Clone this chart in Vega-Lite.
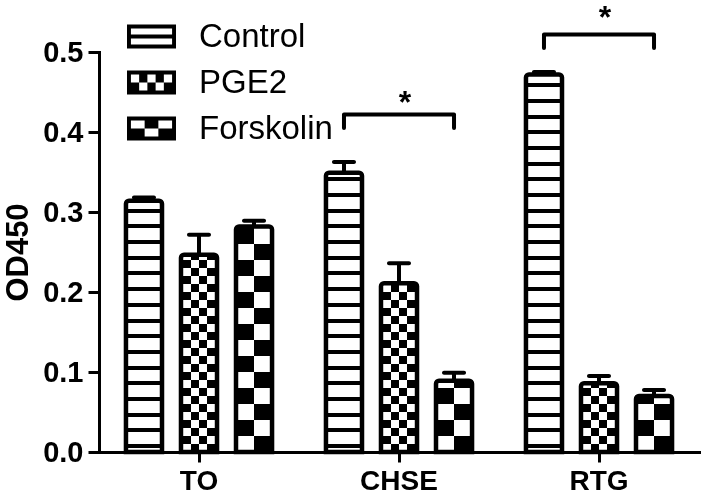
{
  "$schema": "https://vega.github.io/schema/vega-lite/v6.json",
  "width": 600,
  "height": 400,
  "autosize": {"type": "none"},
  "padding": {"left": 99, "top": 52, "right": 3, "bottom": 42},
  "background": "white",
  "datasets": {
    "bars": [
      {"site": "TO", "treatment": "Control", "od": 0.314, "upper": 0.318},
      {"site": "TO", "treatment": "PGE2", "od": 0.2465, "upper": 0.2715},
      {"site": "TO", "treatment": "Forskolin", "od": 0.282, "upper": 0.289},
      {"site": "CHSE", "treatment": "Control", "od": 0.349, "upper": 0.3625},
      {"site": "CHSE", "treatment": "PGE2", "od": 0.211, "upper": 0.236},
      {"site": "CHSE", "treatment": "Forskolin", "od": 0.089, "upper": 0.099},
      {"site": "RTG", "treatment": "Control", "od": 0.472, "upper": 0.475},
      {"site": "RTG", "treatment": "PGE2", "od": 0.086, "upper": 0.095},
      {"site": "RTG", "treatment": "Forskolin", "od": 0.07, "upper": 0.0775}
    ],
    "brackets": [
      {"site": "CHSE", "treatment": "Control", "y": 0.405, "pt": 1},
      {"site": "CHSE", "treatment": "Control", "y": 0.422, "pt": 2},
      {"site": "CHSE", "treatment": "Forskolin", "y": 0.422, "pt": 3},
      {"site": "CHSE", "treatment": "Forskolin", "y": 0.405, "pt": 4},
      {"site": "RTG", "treatment": "Control", "y": 0.505, "pt": 1},
      {"site": "RTG", "treatment": "Control", "y": 0.522, "pt": 2},
      {"site": "RTG", "treatment": "Forskolin", "y": 0.522, "pt": 3},
      {"site": "RTG", "treatment": "Forskolin", "y": 0.505, "pt": 4}
    ],
    "stars": [
      {"site": "CHSE", "treatment": "PGE2", "y": 0.424, "label": "*"},
      {"site": "RTG", "treatment": "PGE2", "y": 0.53, "label": "*"}
    ]
  },
  "data": {"name": "bars"},
  "encoding": {
    "x": {
      "field": "site", "type": "nominal",
      "scale": {"domain": ["TO", "CHSE", "RTG"], "paddingInner": 0, "paddingOuter": 0},
      "axis": {"title": null, "labelAngle": 0, "bandPosition": 0.5, "labelPadding": 5, "tickSize": 10, "labelFontSize": 28}
    },
    "xOffset": {
      "field": "treatment", "type": "nominal",
      "scale": {"domain": ["Control", "PGE2", "Forskolin"], "paddingInner": 0.345, "paddingOuter": 0.49}
    }
  },
  "layer": [
    {
      "transform": [{"filter": "datum.treatment === 'Control'"}],
      "mark": {"type": "bar", "strokeWidth": 0, "fill": {"gradient": "linear", "x1": 0, "y1": 0, "x2": 0, "y2": 1, "stops": [
        {"offset": 0, "color": "#000"}, {"offset": 0.0096, "color": "#000"}, {"offset": 0.0096, "color": "#fff"},
        {"offset": 0.0388, "color": "#fff"}, {"offset": 0.0388, "color": "#000"}, {"offset": 0.0488, "color": "#000"}, {"offset": 0.0488, "color": "#fff"},
        {"offset": 0.078, "color": "#fff"}, {"offset": 0.078, "color": "#000"}, {"offset": 0.088, "color": "#000"}, {"offset": 0.088, "color": "#fff"},
        {"offset": 0.1173, "color": "#fff"}, {"offset": 0.1173, "color": "#000"}, {"offset": 0.1273, "color": "#000"}, {"offset": 0.1273, "color": "#fff"},
        {"offset": 0.1565, "color": "#fff"}, {"offset": 0.1565, "color": "#000"}, {"offset": 0.1665, "color": "#000"}, {"offset": 0.1665, "color": "#fff"},
        {"offset": 0.1957, "color": "#fff"}, {"offset": 0.1957, "color": "#000"}, {"offset": 0.2057, "color": "#000"}, {"offset": 0.2057, "color": "#fff"},
        {"offset": 0.2349, "color": "#fff"}, {"offset": 0.2349, "color": "#000"}, {"offset": 0.2449, "color": "#000"}, {"offset": 0.2449, "color": "#fff"},
        {"offset": 0.2741, "color": "#fff"}, {"offset": 0.2741, "color": "#000"}, {"offset": 0.2841, "color": "#000"}, {"offset": 0.2841, "color": "#fff"},
        {"offset": 0.3133, "color": "#fff"}, {"offset": 0.3133, "color": "#000"}, {"offset": 0.3233, "color": "#000"}, {"offset": 0.3233, "color": "#fff"},
        {"offset": 0.3525, "color": "#fff"}, {"offset": 0.3525, "color": "#000"}, {"offset": 0.3625, "color": "#000"}, {"offset": 0.3625, "color": "#fff"},
        {"offset": 0.3918, "color": "#fff"}, {"offset": 0.3918, "color": "#000"}, {"offset": 0.4018, "color": "#000"}, {"offset": 0.4018, "color": "#fff"},
        {"offset": 0.431, "color": "#fff"}, {"offset": 0.431, "color": "#000"}, {"offset": 0.441, "color": "#000"}, {"offset": 0.441, "color": "#fff"},
        {"offset": 0.4702, "color": "#fff"}, {"offset": 0.4702, "color": "#000"}, {"offset": 0.4802, "color": "#000"}, {"offset": 0.4802, "color": "#fff"},
        {"offset": 0.5094, "color": "#fff"}, {"offset": 0.5094, "color": "#000"}, {"offset": 0.5194, "color": "#000"}, {"offset": 0.5194, "color": "#fff"},
        {"offset": 0.5486, "color": "#fff"}, {"offset": 0.5486, "color": "#000"}, {"offset": 0.5586, "color": "#000"}, {"offset": 0.5586, "color": "#fff"},
        {"offset": 0.5878, "color": "#fff"}, {"offset": 0.5878, "color": "#000"}, {"offset": 0.5978, "color": "#000"}, {"offset": 0.5978, "color": "#fff"},
        {"offset": 0.6271, "color": "#fff"}, {"offset": 0.6271, "color": "#000"}, {"offset": 0.6371, "color": "#000"}, {"offset": 0.6371, "color": "#fff"},
        {"offset": 0.6663, "color": "#fff"}, {"offset": 0.6663, "color": "#000"}, {"offset": 0.6763, "color": "#000"}, {"offset": 0.6763, "color": "#fff"},
        {"offset": 0.7055, "color": "#fff"}, {"offset": 0.7055, "color": "#000"}, {"offset": 0.7155, "color": "#000"}, {"offset": 0.7155, "color": "#fff"},
        {"offset": 0.7447, "color": "#fff"}, {"offset": 0.7447, "color": "#000"}, {"offset": 0.7547, "color": "#000"}, {"offset": 0.7547, "color": "#fff"},
        {"offset": 0.7839, "color": "#fff"}, {"offset": 0.7839, "color": "#000"}, {"offset": 0.7939, "color": "#000"}, {"offset": 0.7939, "color": "#fff"},
        {"offset": 0.8231, "color": "#fff"}, {"offset": 0.8231, "color": "#000"}, {"offset": 0.8331, "color": "#000"}, {"offset": 0.8331, "color": "#fff"},
        {"offset": 0.8624, "color": "#fff"}, {"offset": 0.8624, "color": "#000"}, {"offset": 0.8724, "color": "#000"}, {"offset": 0.8724, "color": "#fff"},
        {"offset": 0.9016, "color": "#fff"}, {"offset": 0.9016, "color": "#000"}, {"offset": 0.9116, "color": "#000"}, {"offset": 0.9116, "color": "#fff"},
        {"offset": 0.9408, "color": "#fff"}, {"offset": 0.9408, "color": "#000"}, {"offset": 0.9508, "color": "#000"}, {"offset": 0.9508, "color": "#fff"},
        {"offset": 0.98, "color": "#fff"}, {"offset": 0.98, "color": "#000"}, {"offset": 0.99, "color": "#000"}, {"offset": 0.99, "color": "#fff"},
        {"offset": 1, "color": "#fff"}
      ]}},
      "encoding": {
        "y": {"datum": 0, "type": "quantitative", "scale": {"domain": [0, 0.5]}, "title": "OD450",
              "axis": {"tickCount": 5, "format": ".1f", "labelPadding": 5, "tickSize": 11, "titlePadding": 8, "labelFontSize": 29, "titleFontSize": 31}},
        "y2": {"datum": 0.5}
      }
    },
    {
      "transform": [{"filter": "datum.treatment === 'PGE2'"}],
      "mark": {"type": "bar", "strokeWidth": 0, "fill": {"gradient": "linear", "x1": 0, "y1": 0, "x2": 0, "y2": 1, "stops": [
        {"offset": 0, "color": "#000"}, {"offset": 0.0333, "color": "#000"}, {"offset": 0.0333, "color": "#fff"},
        {"offset": 0.0667, "color": "#fff"}, {"offset": 0.0667, "color": "#000"}, {"offset": 0.1, "color": "#000"}, {"offset": 0.1, "color": "#fff"},
        {"offset": 0.1333, "color": "#fff"}, {"offset": 0.1333, "color": "#000"}, {"offset": 0.1667, "color": "#000"}, {"offset": 0.1667, "color": "#fff"},
        {"offset": 0.2, "color": "#fff"}, {"offset": 0.2, "color": "#000"}, {"offset": 0.2333, "color": "#000"}, {"offset": 0.2333, "color": "#fff"},
        {"offset": 0.2667, "color": "#fff"}, {"offset": 0.2667, "color": "#000"}, {"offset": 0.3, "color": "#000"}, {"offset": 0.3, "color": "#fff"},
        {"offset": 0.3333, "color": "#fff"}, {"offset": 0.3333, "color": "#000"}, {"offset": 0.3667, "color": "#000"}, {"offset": 0.3667, "color": "#fff"},
        {"offset": 0.4, "color": "#fff"}, {"offset": 0.4, "color": "#000"}, {"offset": 0.4333, "color": "#000"}, {"offset": 0.4333, "color": "#fff"},
        {"offset": 0.4667, "color": "#fff"}, {"offset": 0.4667, "color": "#000"}, {"offset": 0.5, "color": "#000"}, {"offset": 0.5, "color": "#fff"},
        {"offset": 0.5333, "color": "#fff"}, {"offset": 0.5333, "color": "#000"}, {"offset": 0.5667, "color": "#000"}, {"offset": 0.5667, "color": "#fff"},
        {"offset": 0.6, "color": "#fff"}, {"offset": 0.6, "color": "#000"}, {"offset": 0.6333, "color": "#000"}, {"offset": 0.6333, "color": "#fff"},
        {"offset": 0.6667, "color": "#fff"}, {"offset": 0.6667, "color": "#000"}, {"offset": 0.7, "color": "#000"}, {"offset": 0.7, "color": "#fff"},
        {"offset": 0.7333, "color": "#fff"}, {"offset": 0.7333, "color": "#000"}, {"offset": 0.7667, "color": "#000"}, {"offset": 0.7667, "color": "#fff"},
        {"offset": 0.8, "color": "#fff"}, {"offset": 0.8, "color": "#000"}, {"offset": 0.8333, "color": "#000"}, {"offset": 0.8333, "color": "#fff"},
        {"offset": 0.8667, "color": "#fff"}, {"offset": 0.8667, "color": "#000"}, {"offset": 0.9, "color": "#000"}, {"offset": 0.9, "color": "#fff"},
        {"offset": 0.9333, "color": "#fff"}, {"offset": 0.9333, "color": "#000"}, {"offset": 0.9667, "color": "#000"}, {"offset": 0.9667, "color": "#fff"},
        {"offset": 1, "color": "#fff"}
      ]}},
      "encoding": {
        "y": {"datum": 0, "type": "quantitative", "title": "OD450"},
        "y2": {"datum": 0.3}
      }
    },
    {
      "transform": [{"filter": "datum.treatment === 'PGE2'"}],
      "mark": {"type": "bar", "strokeWidth": 0, "blend": "difference", "fill": {"gradient": "linear", "x1": 0, "y1": 0, "x2": 1, "y2": 0, "stops": [
        {"offset": 0, "color": "#fff"}, {"offset": 0.0556, "color": "#fff"}, {"offset": 0.0556, "color": "#000"},
        {"offset": 0.2778, "color": "#000"}, {"offset": 0.2778, "color": "#fff"}, {"offset": 0.5, "color": "#fff"}, {"offset": 0.5, "color": "#000"},
        {"offset": 0.7222, "color": "#000"}, {"offset": 0.7222, "color": "#fff"}, {"offset": 0.9444, "color": "#fff"}, {"offset": 0.9444, "color": "#000"},
        {"offset": 1, "color": "#000"}
      ]}},
      "encoding": {
        "y": {"datum": 0, "type": "quantitative", "title": "OD450"},
        "y2": {"datum": 0.3}
      }
    },
    {
      "transform": [{"filter": "datum.treatment === 'Forskolin'"}],
      "mark": {"type": "bar", "strokeWidth": 0, "fill": {"gradient": "linear", "x1": 0, "y1": 0, "x2": 0, "y2": 1, "stops": [
        {"offset": 0, "color": "#000"}, {"offset": 0.0667, "color": "#000"}, {"offset": 0.0667, "color": "#fff"},
        {"offset": 0.1333, "color": "#fff"}, {"offset": 0.1333, "color": "#000"}, {"offset": 0.2, "color": "#000"}, {"offset": 0.2, "color": "#fff"},
        {"offset": 0.2667, "color": "#fff"}, {"offset": 0.2667, "color": "#000"}, {"offset": 0.3333, "color": "#000"}, {"offset": 0.3333, "color": "#fff"},
        {"offset": 0.4, "color": "#fff"}, {"offset": 0.4, "color": "#000"}, {"offset": 0.4667, "color": "#000"}, {"offset": 0.4667, "color": "#fff"},
        {"offset": 0.5333, "color": "#fff"}, {"offset": 0.5333, "color": "#000"}, {"offset": 0.6, "color": "#000"}, {"offset": 0.6, "color": "#fff"},
        {"offset": 0.6667, "color": "#fff"}, {"offset": 0.6667, "color": "#000"}, {"offset": 0.7333, "color": "#000"}, {"offset": 0.7333, "color": "#fff"},
        {"offset": 0.8, "color": "#fff"}, {"offset": 0.8, "color": "#000"}, {"offset": 0.8667, "color": "#000"}, {"offset": 0.8667, "color": "#fff"},
        {"offset": 0.9333, "color": "#fff"}, {"offset": 0.9333, "color": "#000"}, {"offset": 1, "color": "#000"}
      ]}},
      "encoding": {
        "y": {"datum": 0, "type": "quantitative", "title": "OD450"},
        "y2": {"datum": 0.3}
      }
    },
    {
      "transform": [{"filter": "datum.treatment === 'Forskolin'"}],
      "mark": {"type": "bar", "strokeWidth": 0, "blend": "difference", "fill": {"gradient": "linear", "x1": 0, "y1": 0, "x2": 1, "y2": 0, "stops": [
        {"offset": 0, "color": "#000"}, {"offset": 0.0556, "color": "#000"}, {"offset": 0.0556, "color": "#fff"},
        {"offset": 0.5, "color": "#fff"}, {"offset": 0.5, "color": "#000"}, {"offset": 0.9444, "color": "#000"}, {"offset": 0.9444, "color": "#fff"},
        {"offset": 1, "color": "#fff"}
      ]}},
      "encoding": {
        "y": {"datum": 0, "type": "quantitative", "title": "OD450"},
        "y2": {"datum": 0.3}
      }
    },
    {
      "mark": {"type": "bar", "fill": "white", "stroke": "white", "strokeWidth": 3},
      "encoding": {
        "y": {"field": "od", "type": "quantitative", "title": "OD450"},
        "y2": {"datum": 0.5}
      }
    },
    {
      "mark": {"type": "bar", "fill": "white", "fillOpacity": 0, "stroke": "black", "strokeWidth": 4.5, "cornerRadiusTopLeft": 3, "cornerRadiusTopRight": 3},
      "encoding": {
        "y": {"field": "od", "type": "quantitative", "title": "OD450"},
        "y2": {"datum": 0}
      }
    },
    {
      "mark": {"type": "rule", "color": "black", "strokeWidth": 4},
      "encoding": {
        "y": {"field": "od", "type": "quantitative", "title": "OD450"},
        "y2": {"field": "upper"}
      }
    },
    {
      "mark": {"type": "tick", "color": "black", "orient": "horizontal", "size": 24, "thickness": 4, "cornerRadius": 2, "opacity": 1},
      "encoding": {
        "y": {"field": "upper", "type": "quantitative", "title": "OD450"}
      }
    },
    {
      "data": {"name": "brackets"},
      "mark": {"type": "line", "color": "black", "strokeWidth": 4, "strokeCap": "round", "strokeJoin": "round"},
      "encoding": {
        "y": {"field": "y", "type": "quantitative", "title": "OD450"},
        "detail": {"field": "site"},
        "order": {"field": "pt", "type": "quantitative"}
      }
    },
    {
      "data": {"name": "stars"},
      "mark": {"type": "text", "color": "black", "font": "Liberation Sans", "fontWeight": "bold", "fontSize": 32, "align": "center", "baseline": "alphabetic", "dx": 6},
      "encoding": {
        "y": {"field": "y", "type": "quantitative", "title": "OD450"},
        "text": {"field": "label"}
      }
    },
    {
      "mark": {"type": "point", "opacity": 0, "filled": true, "color": "black"},
      "encoding": {
        "y": {"field": "od", "type": "quantitative", "title": "OD450"},
        "shape": {
          "field": "treatment", "type": "nominal",
          "scale": {
            "domain": ["Control", "PGE2", "Forskolin"],
            "range": [
              "M-1,-0.49L1,-0.49L1,0.49L-1,0.49Z M-0.84,-0.33L-0.84,-0.08L0.84,-0.08L0.84,-0.33Z M-0.84,0.08L-0.84,0.33L0.84,0.33L0.84,0.08Z",
              "M-1,-0.49L1,-0.49L1,0.49L-1,0.49Z M-0.84,-0.33L-0.84,0L-0.504,0L-0.504,-0.33Z M-0.168,-0.33L-0.168,0L0.168,0L0.168,-0.33Z M0.504,-0.33L0.504,0L0.84,0L0.84,-0.33Z M-0.504,0L-0.504,0.33L-0.168,0.33L-0.168,0Z M0.168,0L0.168,0.33L0.504,0.33L0.504,0Z",
              "M-1,-0.49L1,-0.49L1,0.49L-1,0.49Z M-0.84,-0.33L-0.84,0L-0.28,0L-0.28,-0.33Z M0.28,-0.33L0.28,0L0.84,0L0.84,-0.33Z M-0.28,0L-0.28,0.33L0.28,0.33L0.28,0Z"
            ]
          },
          "legend": {
            "orient": "none", "legendX": 27, "legendY": -41, "title": null, "padding": 0,
            "symbolSize": 2401, "labelFont": "Liberation Sans", "labelFontSize": 33, "labelColor": "black",
            "labelOffset": 22, "rowPadding": 3,
            "encode": {"symbols": {"update": {"fill": {"value": "black"}, "opacity": {"value": 1}, "strokeWidth": {"value": 0}}}}
          }
        }
      }
    }
  ],
  "config": {
    "view": {"stroke": null},
    "font": "Liberation Sans",
    "axis": {
      "grid": false,
      "domainColor": "black", "domainWidth": 3, "domainCap": "square",
      "tickColor": "black", "tickWidth": 3,
      "labelFont": "Liberation Sans", "labelFontWeight": "bold", "labelColor": "black",
      "titleFont": "Liberation Sans", "titleFontWeight": "bold", "titleColor": "black"
    }
  }
}
